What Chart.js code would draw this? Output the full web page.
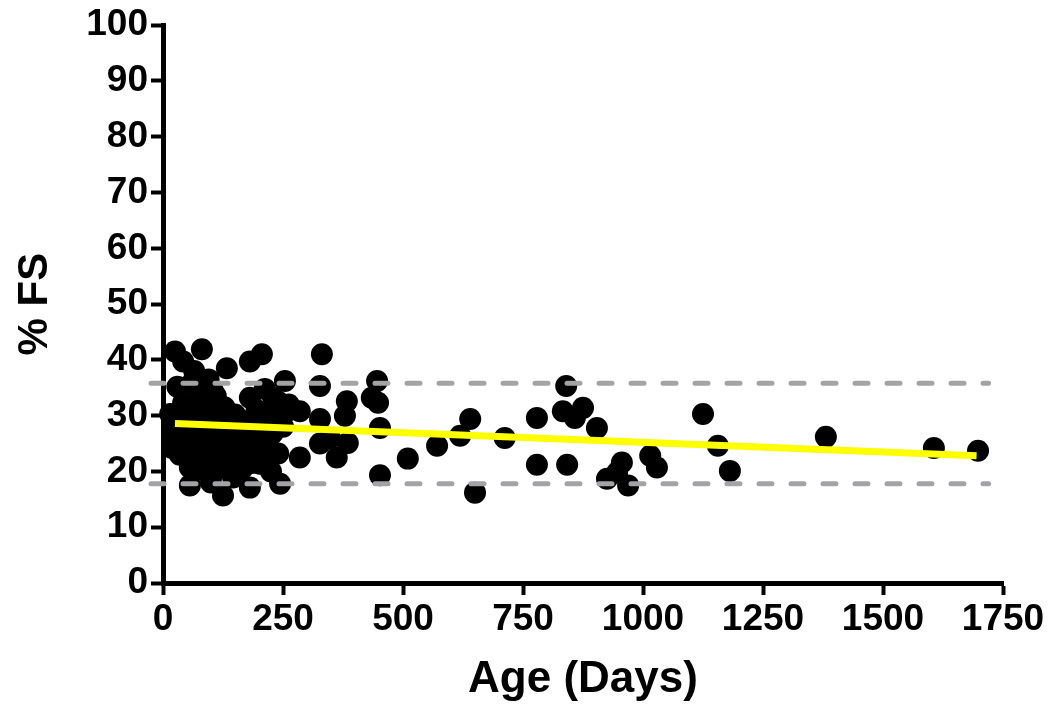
<!DOCTYPE html>
<html>
<head>
<meta charset="utf-8">
<script src="https://cdn.jsdelivr.net/npm/chart.js@4.4.1/dist/chart.umd.min.js"></script>
<style>
  html, body { margin: 0; padding: 0; background: #fff; }
  #wrap { width: 1057px; height: 706px; }
</style>
</head>
<body>
<div id="wrap"><canvas id="fsChart" width="1057" height="706"></canvas></div>
<script>
// Age (days) and %FS for each animal
const ages = [
  25, 81, 42, 133, 181, 206, 254, 212, 181, 42, 77, 104, 258, 15,
  19, 56, 56, 125, 181, 244, 202, 146,
  331, 327, 446, 435, 448, 383, 379, 285, 327, 452, 348, 327, 385, 362, 285, 452,
  510, 571, 619, 640, 650, 712, 779, 779, 840, 833, 858, 875, 904, 842,
  925, 956, 969, 946, 1015, 1029, 1125, 1156, 1181, 1381, 1606, 1698,
  30, 48, 65, 90, 110, 128, 150, 172, 195, 222, 240, 262,
  22, 40, 60, 78, 98, 118, 140, 160, 185, 205, 228, 250,
  35, 52, 72, 92, 112, 132, 155, 175, 198, 218, 240,
  85, 105, 128, 165, 185, 225, 100,
  30, 60, 95, 110, 65, 230
];
const fs = [
  41.5, 41.9, 39.7, 38.5, 39.7, 41.0, 36.2, 34.8, 33.2, 32.3, 33.2, 34.4, 30.8, 30.3,
  24.2, 20.7, 17.5, 15.7, 17.1, 17.8, 21.4, 18.9,
  41.0, 35.3, 36.2, 33.2, 32.3, 32.6, 30.0, 30.8, 29.4, 27.8, 26.0, 25.0, 25.1, 22.5, 22.5, 19.3,
  22.3, 24.6, 26.4, 29.4, 16.2, 26.0, 29.6, 21.2, 35.3, 30.8, 29.6, 31.4, 27.8, 21.2,
  18.7, 21.6, 17.5, 19.8, 22.8, 20.7, 30.3, 24.6, 20.1, 26.2, 24.2, 23.7,
  29.5, 31.0, 28.2, 30.6, 29.0, 31.5, 30.2, 29.0, 31.0, 30.0, 32.5, 32.0,
  27.0, 26.0, 25.5, 27.4, 26.2, 27.8, 26.5, 27.2, 26.0, 27.5, 26.8, 28.0,
  23.0, 24.0, 22.5, 23.8, 22.0, 24.5, 23.0, 24.2, 23.5, 24.8, 23.2,
  20.2, 19.8, 21.0, 20.5, 21.5, 20.0, 18.0,
  35.2, 35.8, 36.5, 33.5, 38.0, 33.2
];

// linear fit end points
const fitX = [25, 1695];
const fitY = [28.6, 22.8];

// normal range limits (dashed)
const limitX = [-25, 1720];
const upperLimit = 35.8;
const lowerLimit = 17.8;

const xTicks = [0, 250, 500, 750, 1000, 1250, 1500, 1750];
const yTicks = [0, 10, 20, 30, 40, 50, 60, 70, 80, 90, 100];

const FONT = "'Liberation Sans', Arial, sans-serif";

const points = ages.map((a, i) => ({ x: a, y: fs[i] }));
const fitLine = fitX.map((x, i) => ({ x, y: fitY[i] }));
const upperLine = limitX.map((x) => ({ x, y: upperLimit }));
const lowerLine = limitX.map((x) => ({ x, y: lowerLimit }));

const dashStyle = {
  showLine: true,
  borderColor: "#a3a3a6",
  borderWidth: 5,
  borderDash: [13, 19],
  borderCapStyle: "round",
  pointRadius: 0,
  fill: false,
  clip: false,
  order: 2,
};

new Chart(document.getElementById("fsChart"), {
  type: "scatter",
  data: {
    datasets: [
      {
        data: points,
        backgroundColor: "#000",
        borderWidth: 0,
        pointRadius: 11,
        pointHoverRadius: 11,
        clip: false,
        order: 3,
      },
      Object.assign({ data: upperLine }, dashStyle),
      Object.assign({ data: lowerLine }, dashStyle),
      {
        data: fitLine,
        showLine: true,
        borderColor: "#ffff00",
        borderWidth: 7,
        pointRadius: 0,
        clip: false,
        order: 1,
      },
    ],
  },
  options: {
    responsive: false,
    animation: false,
    events: [],
    layout: { padding: { top: 22, right: 54, left: 0, bottom: 0 } },
    plugins: { legend: { display: false }, tooltip: { enabled: false } },
    scales: {
      x: {
        type: "linear",
        min: 0,
        max: 1750,
        afterBuildTicks: (s) => { s.ticks = xTicks.map((v) => ({ value: v })); },
        afterFit: (s) => { s.height = 123; },
        border: { display: true, color: "#000", width: 5 },
        grid: { display: true, drawOnChartArea: false, drawTicks: true, tickLength: 12, tickWidth: 4, tickColor: "#000" },
        ticks: { color: "#000", font: { family: FONT, size: 37, weight: "bold" }, padding: 3, maxRotation: 0, autoSkip: false, callback: (v) => String(v) },
        title: { display: true, text: "Age (Days)", color: "#000", font: { family: FONT, size: 44, weight: "bold" }, padding: { top: 4, bottom: 0 } },
      },
      y: {
        type: "linear",
        min: 0,
        max: 100,
        afterBuildTicks: (s) => { s.ticks = yTicks.map((v) => ({ value: v })); },
        afterFit: (s) => { s.width = 163; },
        border: { display: true, color: "#000", width: 5 },
        grid: { display: true, drawOnChartArea: false, drawTicks: true, tickLength: 12, tickWidth: 4, tickColor: "#000" },
        ticks: { color: "#000", font: { family: FONT, size: 37, weight: "bold" }, padding: 3, autoSkip: false, callback: (v) => String(v) },
        title: { display: true, text: "% FS", color: "#000", font: { family: FONT, size: 42, weight: "bold" }, padding: { top: 10, bottom: 0 } },
      },
    },
  },
});
</script>
</body>
</html>
